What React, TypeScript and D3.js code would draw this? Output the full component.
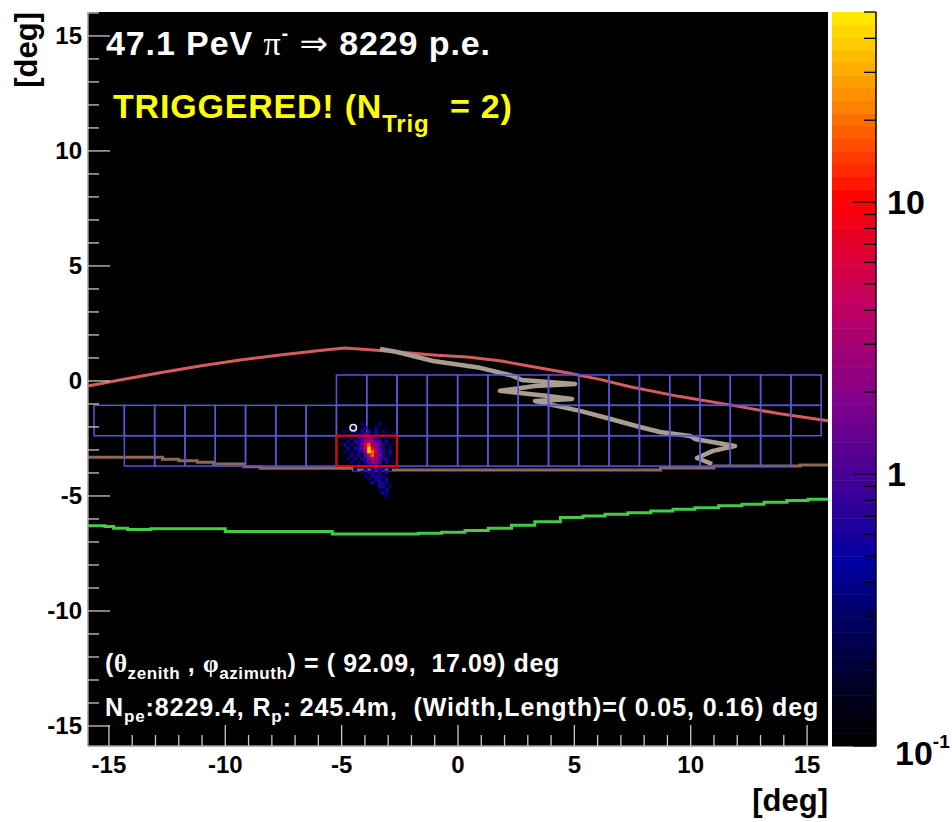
import React from 'react';
import * as d3 from 'd3';

const W = 952;
const H = 822;
// frame of the black pad and the colour bar, in pixels
const frame = { left: 88, right: 828, top: 12, bottom: 746 };
const bar = { left: 832, right: 876 };

// axis ranges in degrees
const xDomain = [-15.9, 15.9];
const yDomain = [-15.87, 16.04];
const majorTicks = [-15, -10, -5, 0, 5, 10, 15];

// colour (p.e.) range of the log z axis
const zDomain = [0.1, 50];

// camera pixel grid
const camColX0 = -15.64;
const camColW = 1.302;
const camRowY0 = 0.26;
const camRowH = 1.32;
const camRowFirstCol = [8, 0, 1];
const camRowLastCol = [23, 23, 22];
const trigRow = 2;
const trigCols = [8, 9];

// red line (upper edge)
const redX = [-15.9, -14.53, -12.81, -11.09, -9.37, -7.65, -5.93, -4.86, -3.35, -1.07, 0.39, 1.8, 3.22, 4.68, 6.1, 7.39, 9.54, 11.69, 13.84, 15.9];
const redY = [-0.22, 0.04, 0.36, 0.65, 0.91, 1.13, 1.32, 1.43, 1.32, 1.13, 1.04, 0.88, 0.62, 0.36, 0.07, -0.25, -0.68, -1.04, -1.43, -1.73];

// brown line (lower edge), stepped
const brownX = [-15.9, -12.7, -12.0, -11.2, -10.5, -9.2, -8.5, -4.5, 8.7, 11.0, 14.7, 15.9];
const brownY = [-3.32, -3.4, -3.47, -3.53, -3.61, -3.73, -3.8, -3.87, -3.78, -3.7, -3.65, -3.65];

// green line, stepped
const greenX = [-15.9, -15.17, -14.8, -14.2, -13.2, -10.0, -5.4, -1.7, -0.7, 0.3, 1.3, 2.3, 3.3, 4.4, 5.37, 6.32, 7.3, 8.29, 9.24, 10.18, 11.2, 12.2, 13.15, 14.14, 15.04, 15.9];
const greenY = [-6.3, -6.33, -6.4, -6.46, -6.43, -6.55, -6.65, -6.62, -6.58, -6.5, -6.4, -6.27, -6.12, -5.94, -5.87, -5.8, -5.73, -5.65, -5.58, -5.51, -5.43, -5.36, -5.27, -5.2, -5.14, -5.14];

// grey jagged line
const greyX = [-3.35, -2.62, -1.07, 0.95, 2.36, 2.75, 5.03, 3.31, 1.8, 2.66, 3.87, 4.9, 3.31, 4.04, 5.24, 6.4, 7.82, 8.68, 9.97, 10.18, 11.9, 10.96, 10.27, 10.92];
const greyY = [1.39, 1.26, 0.87, 0.57, 0.22, 0.04, -0.13, -0.22, -0.43, -0.52, -0.65, -0.78, -0.87, -1.04, -1.3, -1.61, -2.0, -2.22, -2.39, -2.52, -2.83, -3.04, -3.35, -3.61];

// source position marker
const markX = -4.5;
const markY = -2.03;

// shower image: bins of 0.15 deg, digit = level index
const showerX0 = -5.1;
const showerY0 = -1.8;
const showerBin = 0.15;
const showerLevels = [0, 0.2, 0.35, 0.6, 1.2, 2.5, 5, 9, 18, 40];
const showerRows = [
  '......2....2.....',
  '..1.2..3..2..1...',
  '.2..3.3.3.3.2....',
  '...2.3343.3..2.2.',
  '.2.3.3445432.2...',
  '..2.33456544.3.1.',
  '.3.2.34785543.2..',
  '..3.334697543.2..',
  '.2.2.33598643.3..',
  '...3.3.468553.2..',
  '..2.3.33565433...',
  '...2.2.34554.3.2.',
  '.....3.23443.2...',
  '....2..3.3433.2..',
  '......2.33.3.3...',
  '.......2.3332....',
  '........2.33.3...',
  '.........3.332...',
  '...........33.2..',
  '...........2.3...',
  '............32...',
  '.............2...',
];

// palette stops (fraction of log range -> colour)
const paletteT = [0, 0.06, 0.17, 0.25, 0.37, 0.47, 0.62, 0.745, 0.87, 1];
const paletteC = ['#000000', '#000018', '#000060', '#0000a0', '#480096', '#80008c', '#c8005a', '#ff0000', '#ff8000', '#ffee00'];
const nBands = 58;

const font = '"Liberation Sans", Arial, Helvetica, sans-serif';
const serif = '"Liberation Serif", "DejaVu Serif", serif';

export default function App() {
  const x = d3.scaleLinear().domain(xDomain).range([frame.left, frame.right]);
  const y = d3.scaleLinear().domain(yDomain).range([frame.bottom, frame.top]);
  const z = d3.scaleLog().domain(zDomain).range([frame.bottom, frame.top]);
  const palette = d3.scaleLinear<string>().domain(paletteT).range(paletteC).clamp(true);
  const lz0 = Math.log10(zDomain[0]);
  const lz1 = Math.log10(zDomain[1]);
  const colorOf = (v: number) => palette((Math.log10(v) - lz0) / (lz1 - lz0));

  const line = (xs: number[], ys: number[], curve: any) =>
    d3
      .line<number>()
      .x((d, i) => x(xs[i]))
      .y((d, i) => y(ys[i]))
      .curve(curve)(xs) as string;

  const minor = x.ticks(30);
  const minorY = y.ticks(30);

  // camera cells
  const cells: any[] = [];
  camRowFirstCol.forEach((c0, r) => {
    for (let c = c0; c <= camRowLastCol[r]; c++) {
      const x0 = camColX0 + c * camColW;
      const yTop = camRowY0 - r * camRowH;
      cells.push({ key: r + '-' + c, x: x(x0), y: y(yTop), w: x(x0 + camColW) - x(x0), h: y(yTop - camRowH) - y(yTop) });
    }
  });
  const tx0 = camColX0 + trigCols[0] * camColW;
  const tx1 = camColX0 + (trigCols[1] + 1) * camColW;
  const tyTop = camRowY0 - trigRow * camRowH;

  // shower bins
  const bins: any[] = [];
  showerRows.forEach((row, r) => {
    row.split('').forEach((ch, c) => {
      if (ch === '.') return;
      const v = showerLevels[+ch];
      const xa = showerX0 + c * showerBin;
      const ya = showerY0 - r * showerBin;
      bins.push({ key: r + '_' + c, x: x(xa), y: y(ya), w: x(xa + showerBin) - x(xa), h: y(ya - showerBin) - y(ya), fill: colorOf(v) });
    });
  });

  // colour bar bands
  const bands = d3.range(nBands).map(i => {
    const f0 = i / nBands;
    const f1 = (i + 1) / nBands;
    return {
      y0: frame.bottom - f1 * (frame.bottom - frame.top),
      y1: frame.bottom - f0 * (frame.bottom - frame.top),
      fill: palette((f0 + f1) / 2),
    };
  });
  const zTicks = z.ticks();
  const isDecade = (v: number) => Math.abs(Math.log10(v) - Math.round(Math.log10(v))) < 1e-6;

  return (
    <svg width={W} height={H} style={{ position: 'absolute', left: 0, top: 0, background: '#fff' }} fontFamily={font}>
      <rect x={0} y={0} width={W} height={H} fill="#fff" />
      <rect x={frame.left} y={frame.top} width={frame.right - frame.left} height={frame.bottom - frame.top} fill="#000" />

      {/* curves */}
      <path d={line(greenX, greenY, d3.curveStepAfter)} fill="none" stroke="#44cc44" strokeWidth={3} />
      <path d={line(brownX, brownY, d3.curveStepAfter)} fill="none" stroke="#8a6a55" strokeWidth={3} />
      <path d={line(redX, redY, d3.curveLinear)} fill="none" stroke="#d65c5c" strokeWidth={3} />
      <path d={line(greyX, greyY, d3.curveLinear)} fill="none" stroke="#a89d8e" strokeWidth={4.5} strokeLinejoin="round" />

      {/* camera grid */}
      {cells.map(c => (
        <rect key={c.key} x={c.x} y={c.y} width={c.w} height={c.h} fill="none" stroke="#5656d8" strokeWidth={1.5} />
      ))}

      {/* shower */}
      {bins.map(b => (
        <rect key={b.key} x={b.x} y={b.y} width={b.w + 0.3} height={b.h + 0.3} fill={b.fill} />
      ))}

      <rect x={x(tx0)} y={y(tyTop)} width={x(tx1) - x(tx0)} height={y(tyTop - camRowH) - y(tyTop)} fill="none" stroke="#e80000" strokeWidth={2} />
      <circle cx={x(markX)} cy={y(markY)} r={3.2} fill="none" stroke="#e8e8e8" strokeWidth={1.6} />

      {/* axes */}
      <line x1={frame.left} x2={frame.left} y1={frame.top} y2={frame.bottom} stroke="#999" strokeWidth={1.5} />
      <line x1={frame.left} x2={frame.right} y1={frame.bottom} y2={frame.bottom} stroke="#999" strokeWidth={1.5} />
      {minor.map(v => (
        <line key={'xt' + v} x1={x(v)} x2={x(v)} y1={frame.bottom} y2={frame.bottom - (v % 5 === 0 ? 21 : 11)} stroke="#c8c8c8" strokeWidth={1.3} />
      ))}
      {minorY.map(v => (
        <line key={'yt' + v} x1={frame.left} x2={frame.left + (v % 5 === 0 ? 22 : 11)} y1={y(v)} y2={y(v)} stroke="#c8c8c8" strokeWidth={1.3} />
      ))}
      {majorTicks.map(v => (
        <text key={'xl' + v} x={x(v)} y={773} textAnchor="middle" fontSize={24} fontWeight="bold" fill="#000">
          {v}
        </text>
      ))}
      {majorTicks.map(v => (
        <text key={'yl' + v} x={82} y={y(v)} textAnchor="end" dominantBaseline="central" fontSize={24} fontWeight="bold" fill="#000">
          {v}
        </text>
      ))}
      <text x={frame.right} y={811} textAnchor="end" fontSize={31} fontWeight="bold" fill="#000">[deg]</text>
      <text transform={`translate(37,${frame.top}) rotate(-90)`} textAnchor="end" fontSize={31} fontWeight="bold" fill="#000">[deg]</text>

      {/* colour bar */}
      {bands.map((b, i) => (
        <rect key={'band' + i} x={bar.left} y={b.y0} width={bar.right - bar.left} height={b.y1 - b.y0 + 0.5} fill={b.fill} />
      ))}
      <line x1={bar.right} x2={bar.right} y1={frame.top} y2={frame.bottom} stroke="#000" strokeWidth={1.5} />
      {zTicks.map(v => (
        <line key={'zt' + v} x1={bar.right} x2={bar.right - (isDecade(v) ? 23 : 12)} y1={z(v)} y2={z(v)} stroke="#000" strokeWidth={1.3} />
      ))}
      <text x={887} y={z(10)} dominantBaseline="central" fontSize={34} fontWeight="bold" fill="#000">10</text>
      <text x={887} y={z(1)} dominantBaseline="central" fontSize={34} fontWeight="bold" fill="#000">1</text>
      <text x={895} y={765} fontSize={34} fontWeight="bold" fill="#000">
        10<tspan fontSize={19} dy={-17}>-1</tspan>
      </text>

      {/* labels on the pad */}
      <text x={106} y={55} fontSize={34} fontWeight="bold" fill="#fff" letterSpacing={0.9} style={{ whiteSpace: 'pre' }}>
        {'47.1 PeV '}
        <tspan fontFamily={serif} fontWeight="normal">π</tspan>
        <tspan fontSize={20} dy={-15}>-</tspan>
        <tspan dy={15}>{' '}</tspan>
        <tspan fontFamily='"DejaVu Sans", sans-serif' fontWeight="normal">⇒</tspan>
        {' 8229 p.e.'}
      </text>
      <text x={113} y={118} fontSize={34} fontWeight="bold" fill="#ffff00" letterSpacing={0.8} style={{ whiteSpace: 'pre' }}>
        {'TRIGGERED! (N'}
        <tspan fontSize={24} dy={14}>Trig</tspan>
        <tspan dy={-14}>{'  = 2)'}</tspan>
      </text>
      <text x={105} y={672} fontSize={25} fontWeight="bold" fill="#fff" letterSpacing={0.6} style={{ whiteSpace: 'pre' }}>
        {'('}
        <tspan fontFamily={serif}>θ</tspan>
        <tspan fontSize={17} dy={7}>zenith</tspan>
        <tspan dy={-7}>{' , '}</tspan>
        <tspan fontFamily={serif}>φ</tspan>
        <tspan fontSize={17} dy={7}>azimuth</tspan>
        <tspan dy={-7}>{') = ( 92.09,  17.09) deg'}</tspan>
      </text>
      <text x={105} y={716} fontSize={25} fontWeight="bold" fill="#fff" letterSpacing={0.9} style={{ whiteSpace: 'pre' }}>
        {'N'}
        <tspan fontSize={17} dy={6}>pe</tspan>
        <tspan dy={-6}>{':8229.4, R'}</tspan>
        <tspan fontSize={17} dy={6}>p</tspan>
        <tspan dy={-6}>{': 245.4m,  (Width,Length)=( 0.05, 0.16) deg'}</tspan>
      </text>
    </svg>
  );
}
